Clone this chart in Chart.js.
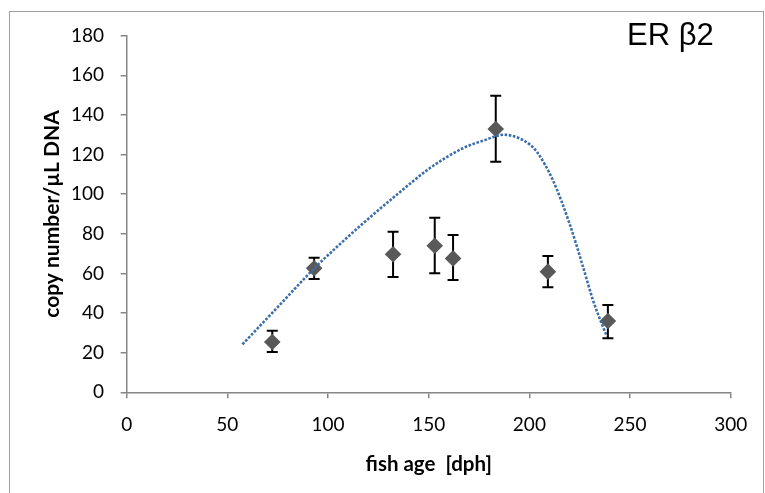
<!DOCTYPE html>
<html>
<head>
<meta charset="utf-8">
<script src="https://cdn.jsdelivr.net/npm/chart.js@4"></script>
<style>
html,body{margin:0;padding:0;background:#fff;}
#wrap{width:765px;height:493px;}
</style>
</head>
<body>
<div id="wrap"><canvas id="c" width="765" height="493"></canvas></div>
<script>
// ---- data ----
const ageDph = [72.3, 93.1, 132.3, 153.0, 162.1, 183.3, 209.2, 239.0];
const copyNumber = [25.4, 62.6, 69.7, 74.0, 67.6, 132.9, 60.9, 36.0];
const errUpper = [31.1, 67.9, 81.1, 88.1, 79.4, 149.7, 68.8, 44.1];
const errLower = [20.3, 57.2, 58.2, 60.1, 56.7, 116.4, 53.0, 27.3];
const trendX = [57.5, 75.0, 93.4, 105.5, 117.4, 134.0, 150.5, 167.0, 177.0, 187.5, 195.0, 200.5, 204.0, 211.7, 220.0, 226.6, 231.5, 236.5, 238.5];
const trendY = [24.2, 43.0, 62.8, 74.4, 85.3, 99.6, 113.1, 123.2, 127.0, 130.0, 128.2, 124.8, 121.0, 107.0, 85.0, 63.5, 46.8, 33.2, 28.3];
const xTicks = [0, 50, 100, 150, 200, 250, 300];
const yTicks = [0, 20, 40, 60, 80, 100, 120, 140, 160, 180];
const panelLabel = 'ER β2';
const xTitle = 'fish age  [dph]';
const yTitle = 'copy number/µL DNA';

const pointData = ageDph.map((x, i) => ({x: x, y: copyNumber[i]}));
const trendData = trendX.map((x, i) => ({x: x, y: trendY[i]}));

const AXIS = '#868686';
const FONT = 'Lato, "Liberation Sans", sans-serif';

const framePlugin = {
  id: 'frame',
  beforeDraw(chart) {
    const ctx = chart.ctx;
    ctx.save();
    ctx.fillStyle = '#ffffff';
    ctx.fillRect(0, 0, chart.width, chart.height);
    ctx.strokeStyle = '#a0a0a0';
    ctx.lineWidth = 1;
    ctx.strokeRect(9.5, 11.5, 754, 520);
    ctx.restore();
  },
  afterDraw(chart) {
    const ctx = chart.ctx;
    ctx.save();
    ctx.fillStyle = '#000';
    ctx.font = '31px "Liberation Sans", Arial, sans-serif';
    ctx.textBaseline = 'alphabetic';
    ctx.textAlign = 'left';
    ctx.fillText(panelLabel, 627, 45);
    ctx.restore();
  }
};

const errorBarPlugin = {
  id: 'errorBars',
  beforeDatasetsDraw(chart) {
    const xs = chart.scales.x, ys = chart.scales.y;
    const ctx = chart.ctx;
    ctx.save();
    ctx.strokeStyle = '#000';
    ctx.lineWidth = 2;
    for (let i = 0; i < ageDph.length; i++) {
      const px = xs.getPixelForValue(ageDph[i]);
      const pt = ys.getPixelForValue(errUpper[i]);
      const pb = ys.getPixelForValue(errLower[i]);
      ctx.beginPath();
      ctx.moveTo(px, pt); ctx.lineTo(px, pb);
      ctx.moveTo(px - 5.5, pt); ctx.lineTo(px + 5.5, pt);
      ctx.moveTo(px - 5.5, pb); ctx.lineTo(px + 5.5, pb);
      ctx.stroke();
    }
    ctx.restore();
  }
};

new Chart(document.getElementById('c'), {
  type: 'scatter',
  data: {
    datasets: [
      {
        label: 'trend',
        data: trendData,
        showLine: true,
        borderColor: '#3b6ea8',
        borderWidth: 2.6,
        borderDash: [2.6, 1.6],
        borderCapStyle: 'butt',
        pointRadius: 0,
        cubicInterpolationMode: 'monotone',
        fill: false,
        order: 0
      },
      {
        label: 'copy number',
        data: pointData,
        pointStyle: 'rectRot',
        pointRadius: 8.3,
        pointBackgroundColor: '#595959',
        pointBorderColor: '#595959',
        pointBorderWidth: 0,
        showLine: false,
        order: 1
      }
    ]
  },
  options: {
    responsive: false,
    animation: false,
    devicePixelRatio: 1,
    layout: { padding: { left: 0, top: 35.7, right: 34.3, bottom: 0 } },
    plugins: { legend: { display: false }, tooltip: { enabled: false } },
    scales: {
      x: {
        type: 'linear', min: 0, max: 300,
        afterBuildTicks(s) { s.ticks = xTicks.map(v => ({value: v})); },
        afterFit(s) { s.height = 100.7; },
        grid: { drawOnChartArea: false, drawTicks: true, tickLength: 6, color: AXIS, lineWidth: 1.5 },
        border: { color: AXIS, width: 1.5 },
        ticks: { color: '#000', font: { family: FONT, size: 19 }, padding: 15, maxRotation: 0 },
        title: { display: true, text: xTitle, color: '#000', font: { family: FONT, size: 20.5, weight: 'bold' }, padding: { top: 16.5, bottom: 16.5 } }
      },
      y: {
        type: 'linear', min: 0, max: 180,
        afterBuildTicks(s) { s.ticks = yTicks.map(v => ({value: v})); },
        afterFit(s) { s.width = 126.7; },
        grid: { drawOnChartArea: false, drawTicks: true, tickLength: 6, color: AXIS, lineWidth: 1.5 },
        border: { color: AXIS, width: 1.5 },
        ticks: { color: '#000', font: { family: FONT, size: 19 }, padding: 16.7 },
        title: { display: true, text: yTitle, color: '#000', font: { family: FONT, size: 21, weight: 'bold' }, padding: { top: 39.4, bottom: 39.4 } }
      }
    }
  },
  plugins: [framePlugin, errorBarPlugin]
});
</script>
</body>
</html>
